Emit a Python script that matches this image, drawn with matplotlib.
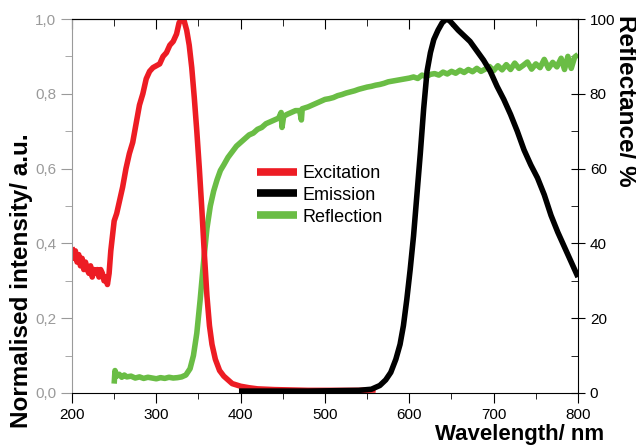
import matplotlib.pyplot as plt
from matplotlib.ticker import MultipleLocator, FuncFormatter

plt.rcParams['font.family'] = ['Liberation Sans', 'DejaVu Sans']

# Excitation (normalised, left axis)
exc_nm = [200, 202, 204, 206, 208, 210, 212, 214, 216, 218, 220, 222, 224, 226, 228, 230,
          232, 234, 236, 238, 240, 242, 244, 246, 248, 250, 253, 256, 260, 264, 268, 272,
          276, 280, 284, 288, 292, 296, 300, 304, 308, 312, 316, 320, 324, 327, 330, 333,
          336, 339, 342, 345, 348, 351, 354, 357, 360, 363, 366, 370, 375, 380, 385, 390,
          400, 410, 420, 440, 460, 480, 500, 520, 540, 560]
exc_val = [0.39, 0.36, 0.38, 0.35, 0.37, 0.34, 0.36, 0.33, 0.35, 0.33, 0.32, 0.34, 0.31, 0.33, 0.32, 0.33,
           0.31, 0.33, 0.32, 0.30, 0.31, 0.29, 0.32, 0.38, 0.42, 0.46, 0.48, 0.51, 0.55, 0.60, 0.64, 0.67,
           0.72, 0.77, 0.80, 0.84, 0.86, 0.87, 0.875, 0.88, 0.90, 0.91, 0.93, 0.94, 0.96, 0.99, 1.0, 0.995,
           0.97, 0.93, 0.87, 0.79, 0.70, 0.60, 0.49, 0.37, 0.26, 0.18, 0.13, 0.09, 0.06, 0.045, 0.035, 0.025,
           0.018, 0.014, 0.011, 0.009, 0.008, 0.007, 0.007, 0.007, 0.007, 0.008]

# Emission (normalised, left axis)
em_nm = [398, 420, 450, 480, 510, 540, 555, 565, 572, 578, 584, 589, 593, 597, 601, 605,
         609, 613, 617, 621, 625, 629, 634, 639, 644, 648, 652, 658, 665, 672, 680, 688,
         696, 704, 712, 720, 728, 736, 744, 752, 760, 768, 776, 784, 792, 800]
em_val = [0.005, 0.005, 0.005, 0.005, 0.006, 0.007, 0.01, 0.02, 0.035, 0.055, 0.09, 0.13, 0.18, 0.25, 0.33, 0.42,
          0.53, 0.64, 0.76, 0.86, 0.91, 0.945, 0.97, 0.99, 1.0, 0.995, 0.985, 0.97, 0.955, 0.94, 0.915, 0.89,
          0.86, 0.82, 0.785, 0.745, 0.70, 0.65, 0.61, 0.575, 0.53, 0.475, 0.43, 0.39, 0.35, 0.31]

# Reflection (%, right axis)
refl_nm = [250, 251, 253, 256, 259, 262, 265, 270, 275, 280, 285, 290, 295, 300, 305, 310,
           315, 320, 325, 330, 335, 340, 344, 348, 352, 356, 360, 364, 368, 372, 376, 380,
           385, 390, 395, 400, 405, 410, 415, 420, 425, 430, 435, 440, 445, 448, 449, 451,
           455, 460, 465, 470, 472, 473, 480, 485, 490, 495, 500, 505, 510, 515, 520, 525,
           530, 535, 540, 545, 550, 555, 560, 565, 570, 575, 580, 585, 590, 595, 600, 605,
           610, 615, 620, 625, 630, 635, 640, 645, 650, 655, 660, 665, 670, 675, 680, 685,
           690, 695, 700, 705, 710, 715, 720, 725, 730, 735, 740, 745, 750, 755, 760, 765,
           770, 775, 780, 784, 788, 792, 796, 800]
refl_val = [2.5, 6.0, 4.5, 5.0, 4.2, 4.8, 4.3, 4.5, 4.0, 4.3, 3.9, 4.2, 4.0, 3.8, 4.1, 3.9,
            4.2, 4.0, 4.1, 4.3, 4.8, 6.5, 10, 16, 25, 35, 44, 50, 54, 57, 59.5, 61,
            63, 64.5, 66, 67, 68, 69, 69.5, 70.5, 71, 72, 72.5, 73, 73.5, 75, 71, 74,
            74.5, 75, 75.5, 75.5, 73, 76, 76.5, 77, 77.5, 78, 78.5, 78.7, 79, 79.5, 79.8, 80.2,
            80.5, 80.8, 81.2, 81.5, 81.8, 82, 82.3, 82.5, 82.8, 83.2, 83.4, 83.6, 83.8, 84, 84.2, 84.5,
            84.1, 85, 84.6, 85.2, 85.4, 85, 85.8, 85.3, 86, 85.5, 86.3, 85.7, 86.5, 85.9, 86.8, 86,
            86.6, 87.3, 86.2, 87.5, 86.4, 87.8, 86.5, 88.2, 86.8, 87.6, 88.5, 86.6, 88, 87, 89.2, 86.8,
            88.4, 87.2, 89.5, 86.5, 90, 86.8, 89.8, 90.5]

RED = '#ed1c24'
GREEN = '#6abd45'
GRAY = '#9a9a9a'

fig = plt.figure(figsize=(6.36, 4.45), dpi=100)
ax = fig.add_axes([0.1132, 0.1169, 0.7956, 0.8404])
ax2 = ax.twinx()
ax.set_zorder(ax2.get_zorder() + 1)
ax.patch.set_visible(False)

l_refl, = ax2.plot(refl_nm, refl_val, color=GREEN, lw=4, solid_capstyle='butt')
l_exc, = ax.plot(exc_nm, exc_val, color=RED, lw=4, solid_capstyle='butt')
l_em, = ax.plot(em_nm, em_val, color='black', lw=4, solid_capstyle='butt')

ax.set_xlim(200, 800)
ax.set_ylim(0, 1.0)
ax2.set_ylim(0, 100)

# spines
ax.spines['right'].set_visible(False)
ax.spines['left'].set_color(GRAY)
for s in ['left', 'top', 'bottom']:
    ax2.spines[s].set_visible(False)

# x ticks
ax.xaxis.set_major_locator(MultipleLocator(100))
ax.xaxis.set_minor_locator(MultipleLocator(50))
ax.tick_params(axis='x', which='major', direction='out', length=7, labelsize=11, pad=4)
ax.tick_params(axis='x', which='minor', direction='out', length=4)
top = ax.secondary_xaxis('top')
top.xaxis.set_major_locator(MultipleLocator(100))
top.xaxis.set_minor_locator(MultipleLocator(50))
top.tick_params(which='major', direction='in', length=7, labeltop=False)
top.tick_params(which='minor', direction='in', length=5)

# left y ticks (grey, comma decimals)
ax.yaxis.set_major_locator(MultipleLocator(0.2))
ax.yaxis.set_minor_locator(MultipleLocator(0.1))
ax.yaxis.set_major_formatter(FuncFormatter(lambda v, p: f'{v:.1f}'.replace('.', ',')))
ax.tick_params(axis='y', which='major', direction='out', length=8, colors=GRAY, labelsize=11)
ax.tick_params(axis='y', which='minor', direction='out', length=5, colors=GRAY)

# right y ticks
ax2.yaxis.set_major_locator(MultipleLocator(20))
ax2.yaxis.set_minor_locator(MultipleLocator(10))
ax2.tick_params(axis='y', which='major', direction='inout', length=10, labelsize=11)
ax2.tick_params(axis='y', which='minor', direction='in', length=5)

ax.set_ylabel('Normalised intensity/ a.u.', fontsize=17.5, fontweight='bold', color='black')
ax.yaxis.set_label_coords(-0.077, 0.3)
ax.set_xlabel('Wavelength/ nm', fontsize=16, fontweight='bold')
ax.xaxis.set_label_coords(0.885, -0.083)
ax2.set_ylabel('Reflectance/ %', fontsize=17.5, fontweight='bold', rotation=270, va='bottom')
ax2.yaxis.set_label_coords(1.072, 0.78)

leg = ax.legend([l_exc, l_em, l_refl], ['Excitation', 'Emission', 'Reflection'],
                loc='upper left', bbox_to_anchor=(0.366, 0.61), frameon=False, fontsize=13,
                handlelength=2.2, handletextpad=0.3, labelspacing=0.27,
                borderaxespad=0, borderpad=0)
for h in leg.get_lines():
    h.set_linewidth(5.5)

fig.savefig('out.png', dpi=100)
